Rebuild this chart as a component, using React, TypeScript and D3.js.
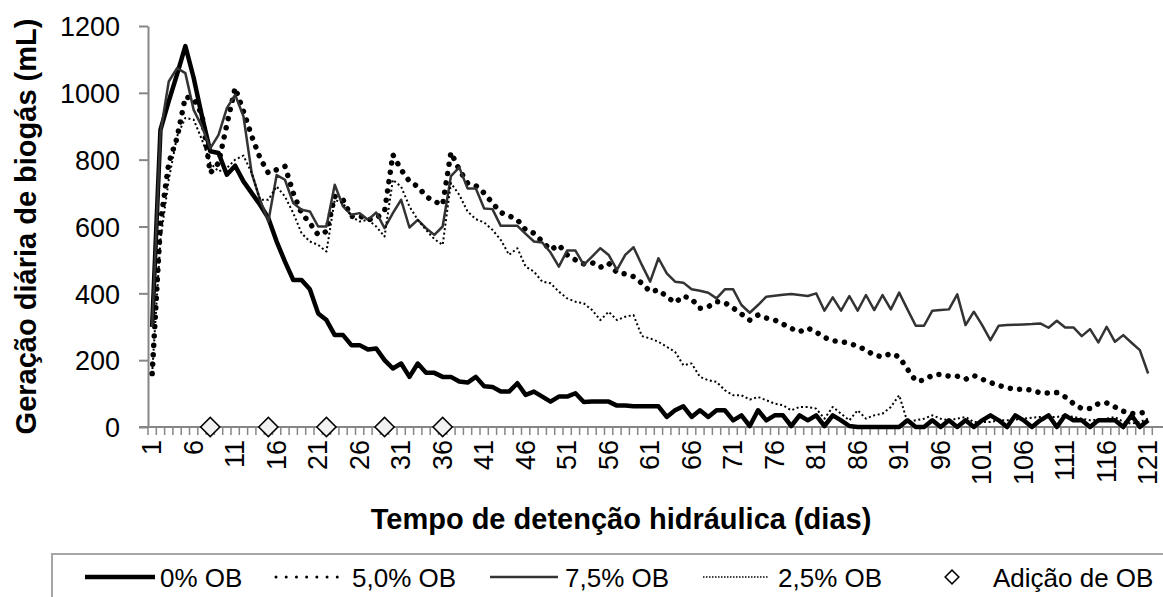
import React, { useRef, useEffect } from "react";
import * as d3 from "d3";

// daily biogas (mL), days 1..121
const days = d3.range(1, 122);

const ob0 = [
  300, 889, 975, 1055, 1140, 1045, 930, 825, 820, 755,
  782, 735, 700, 665, 625, 555, 495, 440, 440, 412,
  340, 320, 275, 275, 245, 245, 232, 235, 200, 175,
  190, 150, 190, 162, 162, 150, 150, 136, 133, 150,
  122, 120, 106, 106, 131, 96, 106, 91, 76, 91,
  91, 101, 75, 76, 76, 76, 64, 64, 62, 62,
  62, 62, 30, 50, 62, 30, 50, 30, 50, 50,
  20, 35, 3, 50, 20, 35, 35, 3, 35, 20,
  35, 3, 35, 20, 3, 0, 0, 0, 0, 0,
  0, 20, 0, 0, 20, 0, 20, 0, 20, 0,
  20, 35, 20, 0, 35, 20, 0, 20, 35, 0,
  35, 20, 20, 0, 20, 20, 20, 0, 35, 0, 20,
];

const ob50 = [
  160, 610, 790, 865, 988, 982, 935, 760, 790, 905,
  1015, 945, 870, 805, 760, 770, 780, 700, 640, 610,
  575, 585, 690, 680, 630, 632, 620, 625, 645, 815,
  770, 735, 720, 690, 675, 665, 822, 770, 730, 722,
  700, 670, 642, 632, 620, 590, 580, 555, 530, 545,
  515, 500, 488, 492, 478, 490, 462, 458, 450, 430,
  405, 410, 390, 372, 392, 383, 355, 360, 375, 372,
  356, 338, 320, 335, 326, 320, 308, 295, 285, 296,
  284, 268, 258, 256, 250, 242, 230, 215, 210, 220,
  210, 173, 138, 140, 155, 158, 152, 152, 143, 154,
  143, 133, 124, 118, 112, 114, 110, 102, 102, 103,
  90, 70, 55, 55, 70, 72, 60, 47, 40, 42, 45,
];

const ob75 = [
  300, 880, 1034, 1074, 1059, 949, 899, 834, 874, 954,
  994, 930, 759, 680, 615, 754, 740, 670, 650, 645,
  600, 600, 725, 660, 635, 640, 620, 642, 595, 640,
  680, 597, 620, 595, 575, 600, 751, 777, 714, 714,
  654, 652, 602, 602, 602, 578, 555, 552, 522, 480,
  528, 528, 485, 510, 535, 515, 470, 515, 538, 485,
  435, 505, 460, 435, 432, 412, 408, 402, 385, 412,
  412, 365, 342, 365, 390, 393, 396, 398, 395, 392,
  400, 348, 388, 348, 392, 348, 395, 350, 395, 352,
  402, 352, 303, 303, 348, 350, 352, 397, 305, 345,
  305, 260, 303, 305, 306, 307, 308, 310, 297, 318,
  298, 298, 272, 293, 253, 300, 255, 275, 252, 230, 160,
];

const ob25 = [
  160, 560, 740, 870, 925, 920, 860, 790, 765, 775,
  800, 812, 760, 680, 680, 720, 690, 640, 580, 555,
  545, 525, 680, 670, 630, 615, 620, 600, 570, 740,
  719, 660, 620, 590, 562, 545, 730, 695, 645, 622,
  612, 590, 560, 515, 535, 480, 465, 435, 430, 405,
  385, 375, 370, 350, 320, 345, 320, 330, 335, 272,
  265, 255, 240, 225, 185, 190, 150, 140, 135, 110,
  95, 95, 82, 90, 80, 70, 65, 50, 60, 60,
  55, 25, 60, 40, 20, 50, 25, 35, 40, 60,
  95, 15, 20, 25, 35, 25, 20, 25, 30, 15,
  15, 15, 20, 20, 22, 25, 28, 30, 30, 30,
  35, 30, 25, 20, 22, 25, 30, 15, 10, 15, 25,
];

// days on which OB was added
const additionDays = [8, 15, 22, 29, 36];

const yTicks = [0, 200, 400, 600, 800, 1000, 1200];

const series = [
  { name: "0% OB", values: ob0, color: "#000", width: 4.5, dash: null, cap: "butt" },
  { name: "5,0% OB", values: ob50, color: "#000", width: 5.5, dash: "0.01 9.4", cap: "round" },
  { name: "7,5% OB", values: ob75, color: "#333", width: 2.5, dash: null, cap: "butt" },
  { name: "2,5% OB", values: ob25, color: "#000", width: 2, dash: "2 2.6", cap: "butt" },
];

const FONT = "'Liberation Sans', Arial, sans-serif";

const App = () => {
  const svgRef = useRef(null);
  const width = 1163;
  const height = 597;

  useEffect(() => {
    const margin = { left: 148, top: 26, bottom: 427 };
    const bandW = 8.3;

    const x = d3
      .scaleBand()
      .domain(days)
      .range([margin.left, margin.left + days.length * bandW])
      .padding(0);
    const cx = (d) => x(d) + x.bandwidth() / 2;

    const y = d3.scaleLinear().domain([0, 1200]).range([margin.bottom, margin.top]);

    const svg = d3.select(svgRef.current);
    svg.selectAll("*").remove();

    const axisColor = "#868686";

    // y axis
    const gy = svg.append("g").attr("transform", `translate(${margin.left},0)`);
    gy.call(d3.axisLeft(y).tickValues(yTicks).tickSize(9).tickSizeOuter(0).tickFormat(d3.format("d")));
    gy.select(".domain").attr("stroke", axisColor).attr("stroke-width", 2);
    gy.selectAll(".tick line").attr("stroke", axisColor).attr("stroke-width", 2);
    gy.selectAll(".tick text")
      .attr("x", -28)
      .attr("dy", "0.36em")
      .attr("fill", "#000")
      .style("font-family", FONT)
      .style("font-size", "27px");

    // x axis: tick at every category boundary
    const bounds = d3.range(0, days.length + 1).map((k) => margin.left + k * bandW);
    const gx = svg.append("g");
    gx.append("line")
      .attr("x1", margin.left - 9)
      .attr("x2", width)
      .attr("y1", margin.bottom)
      .attr("y2", margin.bottom)
      .attr("stroke", axisColor)
      .attr("stroke-width", 2);
    gx.selectAll(".xt")
      .data(bounds)
      .join("line")
      .attr("x1", (d) => d)
      .attr("x2", (d) => d)
      .attr("y1", margin.bottom)
      .attr("y2", margin.bottom + 8)
      .attr("stroke", axisColor)
      .attr("stroke-width", 1.5);

    gx.selectAll(".xl")
      .data(days.filter((d) => (d - 1) % 5 === 0))
      .join("text")
      .attr("transform", (d) => `translate(${cx(d)},${margin.bottom + 13}) rotate(-90)`)
      .attr("text-anchor", "end")
      .attr("dominant-baseline", "central")
      .style("font-family", FONT)
      .style("font-size", "27px")
      .text((d) => d);

    // lines
    const line = d3
      .line()
      .x((v, i) => cx(days[i]))
      .y((v) => y(v));

    series.forEach((s) => {
      svg
        .append("path")
        .datum(s.values)
        .attr("d", line)
        .attr("fill", "none")
        .attr("stroke", s.color)
        .attr("stroke-width", s.width)
        .attr("stroke-linecap", s.cap)
        .attr("stroke-linejoin", "round")
        .attr("stroke-dasharray", s.dash);
    });

    // addition markers
    const diamond = d3.symbol(d3.symbolSquare, 185);
    svg
      .append("g")
      .selectAll("path")
      .data(additionDays)
      .join("path")
      .attr("d", diamond)
      .attr("transform", (d) => `translate(${cx(d)},${y(0)}) rotate(45)`)
      .attr("fill", "#f2f2f2")
      .attr("stroke", "#000")
      .attr("stroke-width", 1.5);

    // axis titles
    svg
      .append("text")
      .attr("transform", `translate(36,${(margin.top + margin.bottom) / 2}) rotate(-90)`)
      .attr("text-anchor", "middle")
      .style("font-family", FONT)
      .style("font-size", "29px")
      .style("font-weight", "bold")
      .text("Geração diária de biogás (mL)");

    svg
      .append("text")
      .attr("x", 621)
      .attr("y", 529)
      .attr("text-anchor", "middle")
      .style("font-family", FONT)
      .style("font-size", "29px")
      .style("font-weight", "bold")
      .text("Tempo de detenção hidráulica (dias)");

    // legend
    const lg = svg.append("g");
    lg.append("rect")
      .attr("x", 52)
      .attr("y", 554)
      .attr("width", 1140)
      .attr("height", 80)
      .attr("fill", "#fff")
      .attr("stroke", "#a6a6a6")
      .attr("stroke-width", 2);

    const items = [
      { x1: 85, x2: 155, tx: 160, s: { ...series[0] } },
      { x1: 276, x2: 347, tx: 352, s: { ...series[1], width: 3, dash: "0.01 10.2" } },
      { x1: 490, x2: 558, tx: 565, s: { ...series[2] } },
      { x1: 703, x2: 768, tx: 778, s: { ...series[3], width: 1.5, dash: "1.5 1.5" } },
    ];
    const ly = 577;
    items.forEach((it) => {
      lg.append("line")
        .attr("x1", it.x1)
        .attr("x2", it.x2)
        .attr("y1", ly)
        .attr("y2", ly)
        .attr("stroke", it.s.color)
        .attr("stroke-width", it.s.width)
        .attr("stroke-linecap", it.s.cap)
        .attr("stroke-dasharray", it.s.dash);
      lg.append("text")
        .attr("x", it.tx)
        .attr("y", 587)
        .style("font-family", FONT)
        .style("font-size", "26px")
        .text(it.s.name);
    });
    lg.append("path")
      .attr("d", d3.symbol(d3.symbolSquare, 95))
      .attr("transform", `translate(952,${ly}) rotate(45)`)
      .attr("fill", "#fff")
      .attr("stroke", "#000")
      .attr("stroke-width", 1.5);
    lg.append("text")
      .attr("x", 993)
      .attr("y", 587)
      .style("font-family", FONT)
      .style("font-size", "26px")
      .text("Adição de OB");
  }, []);

  return (
    <div style={{ position: "absolute", left: 0, top: 0, width, height, overflow: "hidden", background: "#fff" }}>
      <svg ref={svgRef} width={width} height={height}></svg>
    </div>
  );
};

export default App;
